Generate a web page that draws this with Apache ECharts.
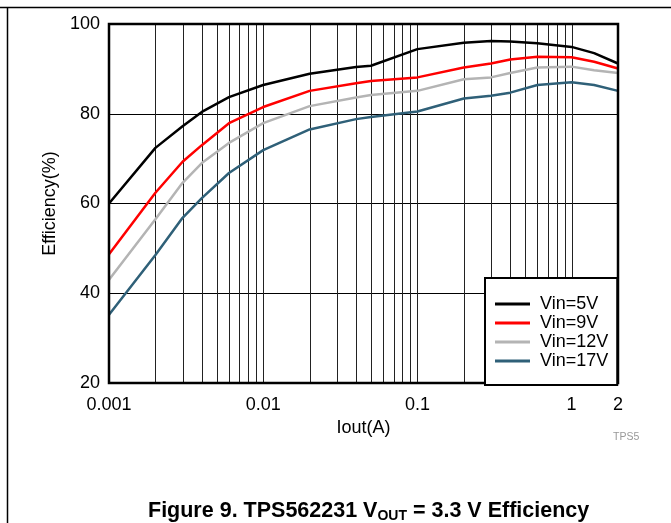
<!DOCTYPE html>
<html><head><meta charset="utf-8">
<script src="https://cdn.jsdelivr.net/npm/echarts@6/dist/echarts.min.js"></script>
<style>html,body{margin:0;padding:0;background:#fff}#c{width:671px;height:523px}</style>
</head><body><div id="c"></div>
<script>
const iout = [0.001, 0.002, 0.003, 0.004, 0.006, 0.01, 0.02, 0.04, 0.05, 0.1, 0.2, 0.3, 0.4, 0.6, 1, 1.4, 2];
const vin5  = [60.0, 72.4, 77.2, 80.4, 83.7, 86.4, 88.9, 90.4, 90.7, 94.4, 95.8, 96.2, 96.1, 95.7, 94.9, 93.5, 91.2];
const vin9  = [48.7, 62.4, 69.3, 73.0, 77.9, 81.5, 85.1, 86.8, 87.3, 88.1, 90.3, 91.2, 92.1, 92.7, 92.6, 91.6, 90.1];
const vin12 = [43.0, 56.5, 64.6, 69.0, 73.5, 77.9, 81.7, 83.6, 84.2, 85.1, 87.7, 88.1, 89.1, 90.3, 90.5, 89.7, 89.1];
const vin17 = [35.2, 48.5, 56.8, 61.2, 66.8, 71.9, 76.5, 78.8, 79.3, 80.5, 83.4, 84.0, 84.7, 86.4, 87.0, 86.4, 85.1];
const seriesNames = ['Vin=5V', 'Vin=9V', 'Vin=12V', 'Vin=17V'];
const seriesColors = ['#000000', '#ff0000', '#b4b4b4', '#2f6078'];
const gridX = [0.002,0.003,0.004,0.005,0.006,0.007,0.008,0.009,0.01,0.02,0.03,0.04,0.05,0.06,0.07,0.08,0.09,0.1,0.2,0.3,0.4,0.5,0.6,0.7,0.8,0.9,1];
const xTickLabels = {'0.001':'0.001','0.01':'0.01','0.1':'0.1','1':'1','2':'2'};
const yMin = 20, yMax = 100, yStep = 20;

const font = '"Liberation Sans", Arial, Helvetica, sans-serif';
const chart = echarts.init(document.getElementById('c'), null, {renderer: 'canvas'});
const allY = [vin5, vin9, vin12, vin17];
const series = [{
  type: 'custom', z: 1, silent: true,
  data: gridX.map(v => [v, yMin]),
  encode: {x: 0, y: 1},
  renderItem: function (params, api) {
    const x = api.value(0);
    const p1 = api.coord([x, yMin]);
    const p2 = api.coord([x, yMax]);
    const px = Math.round(p1[0]) + 0.5;
    return {type: 'line', shape: {x1: px, y1: p1[1], x2: px, y2: p2[1]}, style: {stroke: '#222', lineWidth: 1}};
  }
}];
allY.forEach((ys, i) => series.push({
  name: seriesNames[i], type: 'line', z: 3,
  data: iout.map((x, j) => [x, ys[j]]),
  showSymbol: false, symbol: 'none',
  lineStyle: {color: seriesColors[i], width: 2.5},
  itemStyle: {color: seriesColors[i]}
}));

chart.setOption({
  animation: false,
  backgroundColor: '#fff',
  grid: {left: 109, right: 53, top: 24, bottom: 140, show: true, borderColor: '#000', borderWidth: 2.5, backgroundColor: 'transparent', z: 5},
  xAxis: {
    type: 'log', logBase: 10, min: 0.001, max: 2,
    name: 'Iout(A)', nameLocation: 'middle', nameGap: 36,
    nameTextStyle: {fontFamily: font, fontSize: 18, color: '#000'},
    axisLine: {show: false}, axisTick: {show: false}, splitLine: {show: false},
    axisLabel: {
      fontFamily: font, fontSize: 18, color: '#000', margin: 13,
      showMinLabel: true, showMaxLabel: true,
      formatter: v => {
        const r = Math.round(v * 1000) / 1000;
        return xTickLabels[String(r)] || '';
      }
    }
  },
  yAxis: {
    type: 'value', min: yMin, max: yMax, interval: yStep,
    name: 'Efficiency(%)', nameLocation: 'middle', nameGap: 50,
    nameTextStyle: {fontFamily: font, fontSize: 18, color: '#000'},
    axisLine: {show: false}, axisTick: {show: false},
    splitLine: {show: true, lineStyle: {color: '#000', width: 1}},
    axisLabel: {fontFamily: font, fontSize: 18, color: '#000', margin: 9}
  },
  legend: {
    show: true, data: seriesNames, orient: 'vertical',
    left: 485, top: 278,
    padding: [17, 9, 15, 10], itemGap: 1,
    itemWidth: 35, itemHeight: 3, icon: 'rect',
    backgroundColor: '#fff', borderColor: '#000', borderWidth: 2,
    textStyle: {fontFamily: font, fontSize: 18, color: '#000', padding: [0, 0, 0, 5]},
    z: 10, selectedMode: false
  },
  title: {
    left: 148, top: 499, padding: 0,
    text: '{b|Figure 9. TPS562231 V}{s|OUT}{b| = 3.3 V Efficiency}',
    textStyle: {
      rich: {
        b: {fontFamily: font, fontSize: 21.5, fontWeight: 'bold', color: '#000'},
        s: {fontFamily: font, fontSize: 14, fontWeight: 'bold', color: '#000', padding: [10, 0, 0, 0]}
      }
    }
  },
  graphic: [
    {type: 'line', shape: {x1: 0, y1: 7.5, x2: 671, y2: 7.5}, style: {stroke: '#000', lineWidth: 1.5}, silent: true},
    {type: 'line', shape: {x1: 7.5, y1: 7, x2: 7.5, y2: 523}, style: {stroke: '#000', lineWidth: 1.5}, silent: true},
    {type: 'text', left: 613, top: 432, style: {text: 'TPS5', fontFamily: font, fontSize: 10.5, fill: '#999'}, silent: true}
  ],
  series: series
});
</script></body></html>
